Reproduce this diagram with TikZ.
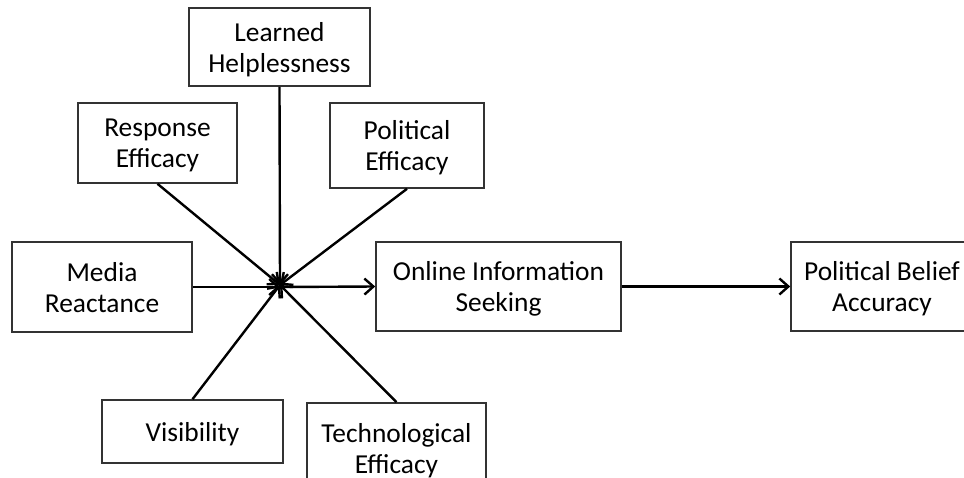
\documentclass[tikz,border=0pt]{standalone}
\usepackage{fontspec}
\setmainfont{Carlito}
\usepackage{tikz}
\usetikzlibrary{arrows.meta}
\tikzstyle{box}=[rectangle,draw=black!80,line width=0.8pt,align=center,
  inner sep=2pt,text depth=-1.5pt,font=\fontsize{13.7}{15.5}\selectfont]
\tikzstyle{link}=[line width=1.2pt,-{Straight Barb[length=4.5pt,width=8pt]}]

\begin{document}
\begin{tikzpicture}[x=0.5pt, y=-0.5pt]
    \useasboundingbox (0,0) rectangle (964,477);
    \node [style=box, minimum width=181pt*0.5, minimum height=78pt*0.5] (helpless) at (279.5, 47) {Learned\\Helplessness};
    \node [style=box, minimum width=159pt*0.5, minimum height=80pt*0.5] (response) at (157.5, 143) {Response\\Efficacy};
    \node [style=box, minimum width=154pt*0.5, minimum height=85pt*0.5] (poleff) at (407, 145.5) {Political\\Efficacy};
    \node [style=box, minimum width=180pt*0.5, minimum height=90pt*0.5] (media) at (102, 287) {Media\\Reactance};
    \node [style=box, minimum width=245pt*0.5, minimum height=89pt*0.5] (online) at (498.5, 286.5) {Online Information\\Seeking};
    \node [style=box, minimum width=182pt*0.5, minimum height=89pt*0.5] (belief) at (882, 286.5) {Political Belief\\Accuracy};
    \node [style=box, minimum width=181pt*0.5, minimum height=63pt*0.5] (visib) at (192.5, 431.5) {Visibility};
    \node [style=box, minimum width=179pt*0.5, minimum height=90pt*0.5] (techeff) at (396.5, 448) {Technological\\Efficacy};
    \coordinate (hub) at (280, 285);
    \draw [style=link] (helpless.south) to (hub);
    \draw [style=link] (response.south) to (hub);
    \draw [style=link] (poleff.south) to (hub);
    \draw [style=link] (visib.north) to (hub);
    \draw [style=link] (techeff.north) to (hub);
    \draw [style=link] (media.east) to (media.east -| hub);
    \draw [style=link] (media.east -| hub) to (online.west);
    \draw [style=link] (online.east) to (belief.west);
    \end{tikzpicture}
\end{document}
